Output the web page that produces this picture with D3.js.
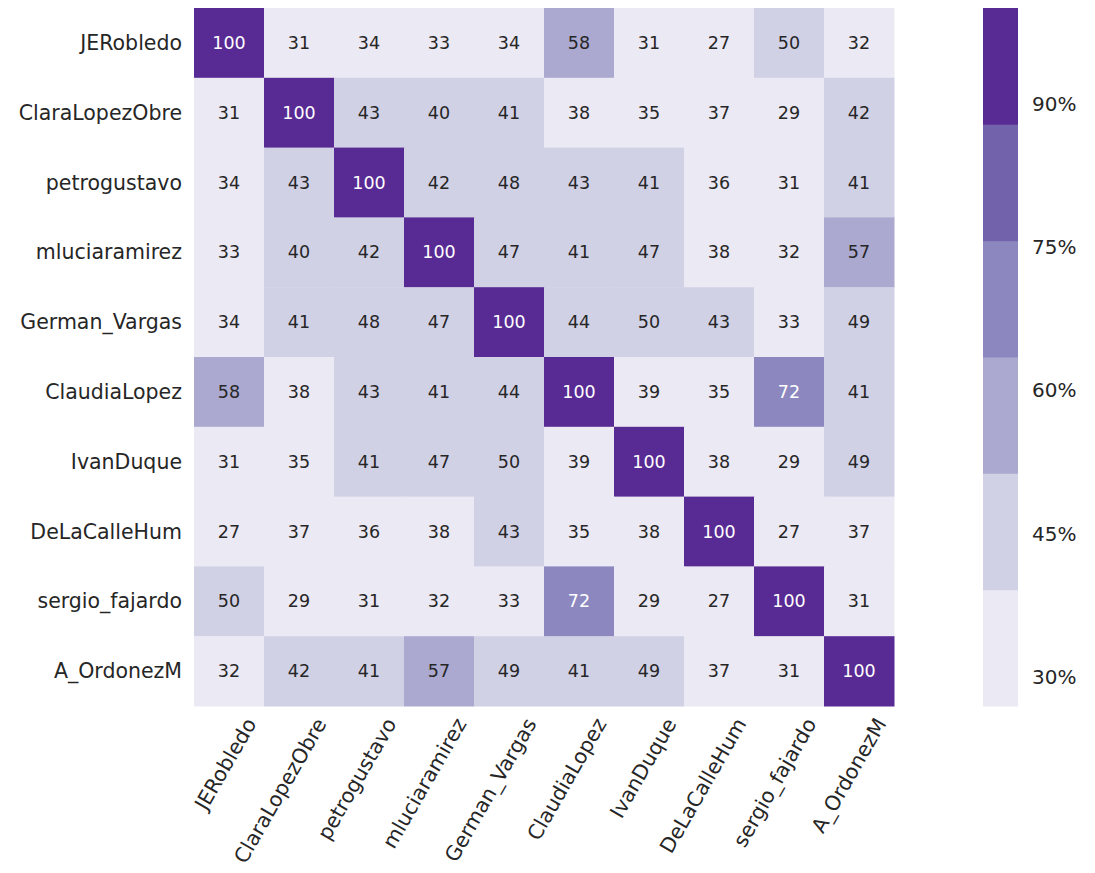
<!DOCTYPE html>
<html>
<head>
<meta charset="utf-8">
<script src="https://cdn.jsdelivr.net/npm/d3@7"></script>
<style>
  body { margin: 0; background: #fff; }
  text { font-family: "DejaVu Sans", sans-serif; fill: #262626; }
</style>
</head>
<body>
<svg id="chart" width="1095" height="873"></svg>
<script>
// Accounts (rows and columns)
const accounts = ['JERobledo', 'ClaraLopezObre', 'petrogustavo', 'mluciaramirez', 'German_Vargas',
    'ClaudiaLopez', 'IvanDuque', 'DeLaCalleHum', 'sergio_fajardo', 'A_OrdonezM'];

// Similarity matrix (%), one array per row
const rowJERobledo     = [100, 31, 34, 33, 34, 58, 31, 27, 50, 32];
const rowClaraLopez    = [31, 100, 43, 40, 41, 38, 35, 37, 29, 42];
const rowPetro         = [34, 43, 100, 42, 48, 43, 41, 36, 31, 41];
const rowMlucia        = [33, 40, 42, 100, 47, 41, 47, 38, 32, 57];
const rowGermanVargas  = [34, 41, 48, 47, 100, 44, 50, 43, 33, 49];
const rowClaudiaLopez  = [58, 38, 43, 41, 44, 100, 39, 35, 72, 41];
const rowIvanDuque     = [31, 35, 41, 47, 50, 39, 100, 38, 29, 49];
const rowDeLaCalle     = [27, 37, 36, 38, 43, 35, 38, 100, 27, 37];
const rowFajardo       = [50, 29, 31, 32, 33, 72, 29, 27, 100, 31];
const rowOrdonez       = [32, 42, 41, 57, 49, 41, 49, 37, 31, 100];
const matrix = [rowJERobledo, rowClaraLopez, rowPetro, rowMlucia, rowGermanVargas,
    rowClaudiaLopez, rowIvanDuque, rowDeLaCalle, rowFajardo, rowOrdonez];

// Colour bar range and ticks
const colorDomain = [27, 100];
const colorTicks = [30, 45, 60, 75, 90];
const palette = ['#ebe9f3', '#d1d1e6', '#aba9d0', '#8c88bf', '#7262ab', '#582a93'];

const svg = d3.select('#chart');

// Grid area
const gridLeft = 194, gridTop = 8, gridW = 700, gridH = 698;

const x = d3.scaleBand().domain(accounts).range([gridLeft, gridLeft + gridW]);
const y = d3.scaleBand().domain(accounts).range([gridTop, gridTop + gridH]);

// Quantized colour scale: 6 equal bins over the domain
const step = (colorDomain[1] - colorDomain[0]) / palette.length;
const thresholds = d3.range(1, palette.length).map(i => colorDomain[0] + i * step);
const color = d3.scaleThreshold().domain(thresholds).range(palette);

const cells = [];
matrix.forEach((row, i) => row.forEach((v, j) => cells.push({ r: accounts[i], c: accounts[j], v })));

svg.append('g')
    .selectAll('rect')
    .data(cells)
    .join('rect')
    .attr('x', d => x(d.c))
    .attr('y', d => y(d.r))
    .attr('width', x.bandwidth() + 0.5)
    .attr('height', y.bandwidth() + 0.5)
    .attr('fill', d => color(d.v));

svg.append('g')
    .selectAll('text')
    .data(cells)
    .join('text')
    .attr('x', d => x(d.c) + x.bandwidth() / 2)
    .attr('y', d => y(d.r) + y.bandwidth() / 2)
    .attr('text-anchor', 'middle')
    .attr('dominant-baseline', 'central')
    .style('font-size', '17.5px')
    .style('fill', d => d.v >= thresholds[2] ? '#ffffff' : '#262626')
    .text(d => d.v);

// Y axis labels
svg.append('g')
    .selectAll('text')
    .data(accounts)
    .join('text')
    .attr('x', gridLeft - 12)
    .attr('y', d => y(d) + y.bandwidth() / 2)
    .attr('text-anchor', 'end')
    .attr('dominant-baseline', 'central')
    .style('font-size', '20.5px')
    .text(d => d);

// X axis labels, rotated
svg.append('g')
    .selectAll('text')
    .data(accounts)
    .join('text')
    .attr('transform', d => `translate(${x(d) + x.bandwidth() / 2 + 22},${gridTop + gridH + 14}) rotate(-60)`)
    .attr('text-anchor', 'end')
    .attr('dominant-baseline', 'central')
    .style('font-size', '20.5px')
    .text(d => d);

// Colour bar
const cbX = 983, cbW = 35;
const cbY = d3.scaleLinear().domain(colorDomain).range([gridTop + gridH, gridTop]);
const bins = palette.map((p, i) => ({ lo: colorDomain[0] + i * step, hi: colorDomain[0] + (i + 1) * step, p }));

svg.append('g')
    .selectAll('rect')
    .data(bins)
    .join('rect')
    .attr('x', cbX)
    .attr('y', d => cbY(d.hi))
    .attr('width', cbW)
    .attr('height', d => cbY(d.lo) - cbY(d.hi) + 0.5)
    .attr('fill', d => d.p);

svg.append('g')
    .selectAll('text')
    .data(colorTicks)
    .join('text')
    .attr('x', cbX + cbW + 14)
    .attr('y', d => cbY(d))
    .attr('dominant-baseline', 'central')
    .style('font-size', '20px')
    .text(d => d + '%');
</script>
</body>
</html>
